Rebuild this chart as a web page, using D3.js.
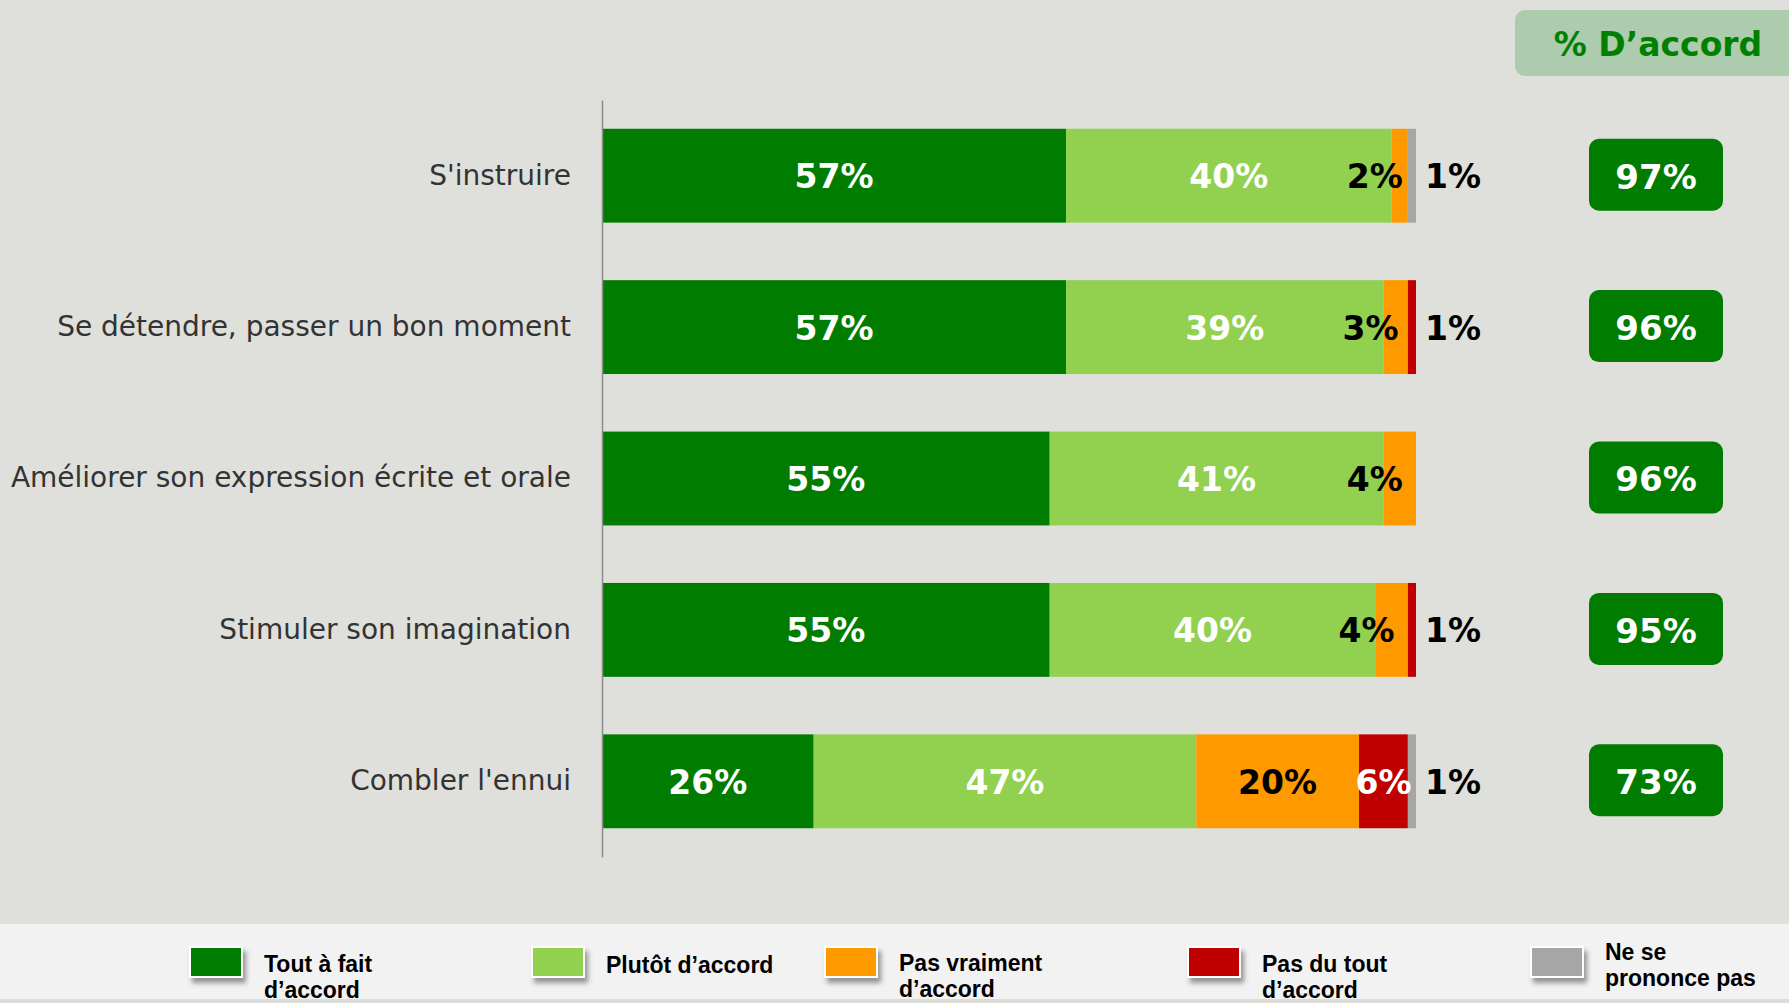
<!DOCTYPE html>
<html>
<head>
<meta charset="utf-8">
<script src="https://cdn.jsdelivr.net/npm/d3@7"></script>
<style>
  body { margin: 0; background: #dfe0db; overflow: hidden; }
</style>
</head>
<body>
<div id="vizContainer"></div>
<script>
let w = 1789;
let h = 1003;

// data
let categories = ["S'instruire", "Se détendre, passer un bon moment", "Améliorer son expression écrite et orale", "Stimuler son imagination", "Combler l'ennui"];
let toutAFait = [57, 57, 55, 55, 26];
let plutot = [40, 39, 41, 40, 47];
let pasVraiment = [2, 3, 4, 4, 20];
let pasDuTout = [0, 1, 0, 1, 6];
let nsp = [1, 0, 0, 0, 1];
let totalAccord = [97, 96, 96, 95, 73];

let seriesKeys = ["toutAFait", "plutot", "pasVraiment", "pasDuTout", "nsp"];
let seriesColors = ["#007c00", "#92d050", "#ff9900", "#c00000", "#a6a6a6"];
let labelColors = ["#fff", "#fff", "#000", "#fff", "#000"];
let legendLabels = [["Tout à fait", "d’accord"], ["Plutôt d’accord"], ["Pas vraiment", "d’accord"], ["Pas du tout", "d’accord"], ["Ne se", "prononce pas"]];
let headerLabel = "% D’accord";

// layout only
let legendX = [190, 532, 825, 1188, 1531];
let legendTextY = [972, 973, 971, 972, 960];

let rows = categories.map((c, i) => ({
  cat: c,
  toutAFait: toutAFait[i],
  plutot: plutot[i],
  pasVraiment: pasVraiment[i],
  pasDuTout: pasDuTout[i],
  nsp: nsp[i],
  total: totalAccord[i]
}));

let viz = d3.select("#vizContainer").append("svg")
    .attr("width", w)
    .attr("height", h)
    .style("background-color", "#dfe0db")
;

let defs = viz.append("defs");
let shadow = defs.append("filter").attr("id", "swShadow")
    .attr("x", "-30%").attr("y", "-30%").attr("width", "170%").attr("height", "180%");
shadow.append("feDropShadow")
    .attr("dx", 3).attr("dy", 5).attr("stdDeviation", 2.5)
    .attr("flood-color", "#444").attr("flood-opacity", 0.55);

let xScale = d3.scaleLinear().domain([0, 100]).range([602, 1416]);
let yScale = d3.scaleBand().domain(categories).range([100, 857])
    .paddingInner(0.38).paddingOuter(0.19);

let stack = d3.stack().keys(seriesKeys);
let stacked = stack(rows);

// bars
let layers = viz.append("g").attr("class", "layers")
  .selectAll("g").data(stacked).enter()
  .append("g")
    .attr("fill", (d, i) => seriesColors[i]);

layers.selectAll("rect").data(d => d).enter()
  .append("rect")
    .attr("x", d => xScale(d[0]))
    .attr("y", d => yScale(d.data.cat))
    .attr("width", d => xScale(d[1]) - xScale(d[0]))
    .attr("height", yScale.bandwidth())
;

// labels inside the bars
let labelFont = "'DejaVu Sans', Verdana, sans-serif";
stacked.forEach((layer, li) => {
  layer.forEach(d => {
    let v = d[1] - d[0];
    if (v <= 0) return;
    let x0 = xScale(d[0]), x1 = xScale(d[1]);
    let yc = yScale(d.data.cat) + yScale.bandwidth() / 2;
    let t = viz.append("text")
      .attr("y", yc)
      .attr("dy", "0.38em")
      .style("font-family", labelFont)
      .style("font-weight", "bold")
      .style("font-size", "33px")
      .text(v + "%");
    if (v <= 1) {
      // tiny slice: label outside, right of the bar
      t.attr("x", xScale(100) + 9).attr("text-anchor", "start").attr("fill", "#000");
    } else if (x1 - x0 < 40) {
      t.attr("x", (x0 + x1) / 2 + 3).attr("text-anchor", "end").attr("fill", labelColors[li]);
    } else {
      t.attr("x", (x0 + x1) / 2).attr("text-anchor", "middle").attr("fill", labelColors[li]);
    }
  });
});

// category axis
let yAxis = d3.axisLeft(yScale).tickSize(0).tickPadding(31);
let yAxisGroup = viz.append("g")
    .attr("class", "yaxis")
    .attr("transform", "translate(" + xScale(0) + ",0)")
    .call(yAxis);
yAxisGroup.select(".domain").attr("stroke", "#8c8c8c").attr("stroke-width", 1.5);
yAxisGroup.selectAll("text")
    .style("font-family", labelFont)
    .style("font-size", "28px")
    .attr("fill", "#333");

// header box
let boxCx = 1656;
viz.append("rect")
    .attr("x", 1515).attr("y", 10)
    .attr("width", 320).attr("height", 66)
    .attr("rx", 10)
    .attr("fill", "#adcbad");
viz.append("text")
    .attr("x", 1658).attr("y", 44).attr("dy", "0.36em")
    .attr("text-anchor", "middle")
    .style("font-family", labelFont)
    .style("font-weight", "bold")
    .style("font-size", "33px")
    .attr("fill", "#008000")
    .text(headerLabel);

// total boxes
let totals = viz.append("g").attr("class", "totals")
  .selectAll("g").data(rows).enter()
  .append("g")
    .attr("transform", d => "translate(" + boxCx + "," + (yScale(d.cat) + yScale.bandwidth() / 2) + ")");
totals.append("rect")
    .attr("x", -67).attr("y", -37)
    .attr("width", 134).attr("height", 72)
    .attr("rx", 10)
    .attr("fill", "#007c00");
totals.append("text")
    .attr("text-anchor", "middle")
    .attr("dy", "0.38em")
    .style("font-family", labelFont)
    .style("font-weight", "bold")
    .style("font-size", "34px")
    .attr("fill", "#fff")
    .text(d => d.total + "%");

// legend band
viz.append("rect")
    .attr("x", 0).attr("y", 924)
    .attr("width", w).attr("height", 76)
    .attr("fill", "#f2f2f2");
// thin strip at the very bottom
viz.append("rect")
    .attr("x", 0).attr("y", 999)
    .attr("width", w).attr("height", 4)
    .attr("fill", "#dcdcd8");

let legend = viz.append("g").attr("class", "legend")
  .selectAll("g").data(legendLabels).enter()
  .append("g");
legend.append("rect")
    .attr("x", (d, i) => legendX[i])
    .attr("y", 947)
    .attr("width", 52).attr("height", 30)
    .attr("fill", (d, i) => seriesColors[i])
    .attr("stroke", "#fff").attr("stroke-width", 2)
    .attr("filter", "url(#swShadow)");
legend.each(function(lines, i) {
  let t = d3.select(this).append("text")
    .style("font-family", "'Liberation Sans', Arial, sans-serif")
    .style("font-weight", "bold")
    .style("font-size", "23px")
    .attr("fill", "#000");
  lines.forEach((ln, k) => {
    t.append("tspan")
      .attr("x", legendX[i] + 74)
      .attr("y", legendTextY[i] + k * 26)
      .text(ln);
  });
});
</script>
</body>
</html>
